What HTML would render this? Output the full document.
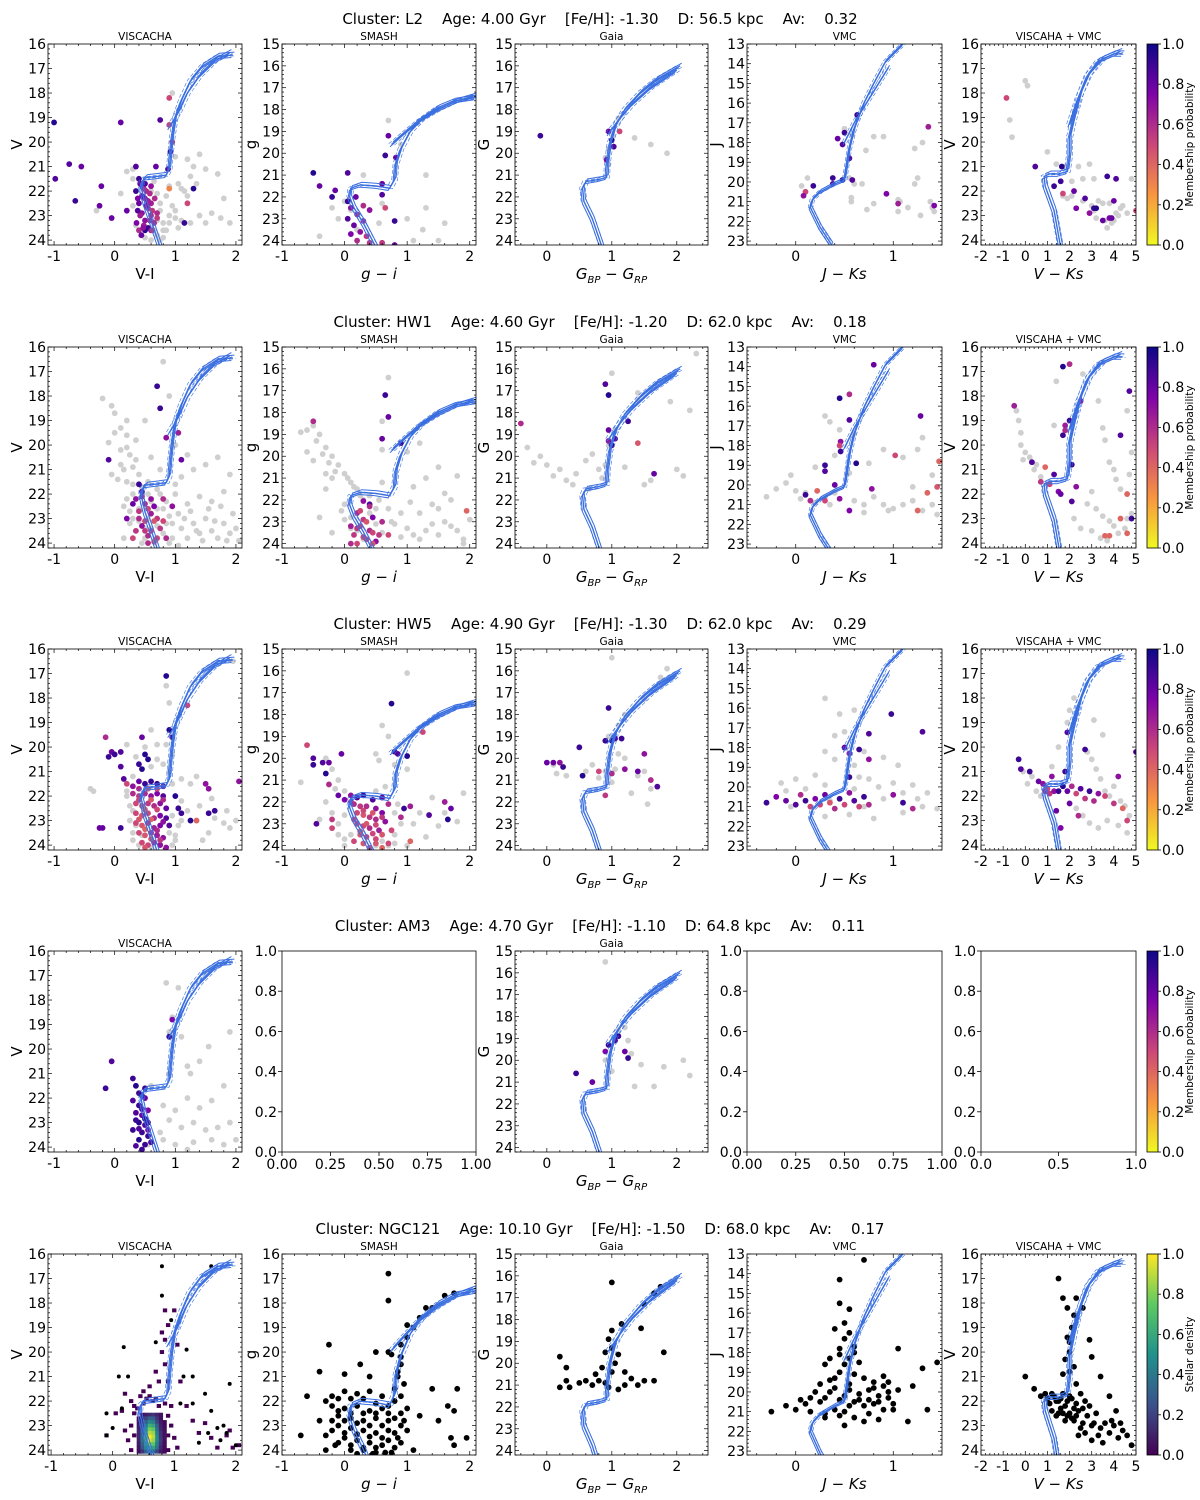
<!DOCTYPE html>
<html><head><meta charset="utf-8">
<style>
html,body{margin:0;padding:0;background:#fff;}
svg{display:block;font-family:"DejaVu Sans","Liberation Sans",sans-serif;}
</style></head>
<body>
<svg id="fig" width="1200" height="1500" viewBox="0 0 1200 1500" xmlns="http://www.w3.org/2000/svg"></svg>
<script>
// ---------- DATA ----------
const clusterNames = ["L2","HW1","HW5","AM3","NGC121"];
const clusterAges = ["4.00","4.60","4.90","4.70","10.10"];
const clusterFeH = ["-1.30","-1.20","-1.30","-1.10","-1.50"];
const clusterDist = ["56.5","62.0","62.0","64.8","68.0"];
const clusterAv = ["0.32","0.18","0.29","0.11","0.17"];
const rowPanels = [
 ["VI","GI","GAIA","JK","VK"],
 ["VI","GI","GAIA","JK","VK"],
 ["VI","GI","GAIA","JK","VK"],
 ["VI","E","GAIA","E","E5"],
 ["VIH","GI","GAIA","JK","VK"]
];
const turnoffShift = [0,0.3,0.35,0.3,0.9];
// isochrones [colour, magnitude]
const isoVI = [[0.75,24.3],[0.6,23.2],[0.5,22.5],[0.44,21.9],[0.45,21.6],[0.52,21.45],[0.7,21.4],[0.85,21.35],[0.9,21.1],[0.92,20.5],[0.95,19.8],[1.0,19.0],[1.1,18.3],[1.25,17.5],[1.45,16.9],[1.7,16.5],[1.95,16.45]];
const agbVI = [[0.9,19.4],[1.05,18.8],[1.2,18.0],[1.4,17.3],[1.65,16.7],[1.9,16.35]];
const isoGI = [[0.5,24.3],[0.3,23.2],[0.15,22.5],[0.08,22.0],[0.1,21.6],[0.25,21.45],[0.5,21.5],[0.72,21.6],[0.8,21.2],[0.82,20.5],[0.9,19.8],[1.05,19.0],[1.25,18.4],[1.5,17.9],[1.75,17.6],[2.1,17.45]];
const agbGI = [[0.75,19.6],[0.95,19.1],[1.2,18.5],[1.5,18.0],[1.8,17.6],[2.1,17.35]];
const isoGAIA = [[0.85,24.3],[0.7,23.0],[0.57,22.2],[0.55,21.6],[0.6,21.3],[0.8,21.2],[0.92,21.1],[0.93,20.5],[0.97,19.6],[1.05,18.8],[1.2,18.0],[1.45,17.2],[1.7,16.6],[2.05,16.0]];
const agbGAIA = [[0.95,19.1],[1.1,18.5],[1.3,17.8],[1.6,17.0],[2.0,16.2]];
const isoJK = [[0.37,23.2],[0.25,22.3],[0.15,21.3],[0.17,20.9],[0.25,20.5],[0.4,20.1],[0.5,19.9],[0.52,19.3],[0.55,18.3],[0.6,17.3],[0.7,16.0],[0.8,15.0],[0.92,13.9],[1.1,13.0]];
const agbJK = [[0.5,18.0],[0.6,17.0],[0.75,15.8],[0.95,14.2]];
const isoVK = [[1.6,24.3],[1.3,22.8],[0.9,21.8],[0.85,21.4],[1.1,21.3],[1.5,21.3],[1.9,21.2],[2.0,20.5],[2.0,19.8],[2.2,19.0],[2.5,18.0],[2.8,17.3],[3.3,16.7],[4.0,16.4],[4.4,16.4]];
const agbVK = [[2.0,19.3],[2.4,18.2],[2.9,17.2],[3.5,16.6],[4.3,16.3]];
// stars: "colour,mag,prob" (prob omitted = non-member grey, k = black)
const starsR1VI = "0.6,23.5 0.7,23.2 0.8,23.6 0.9,23.0 0.75,22.5 0.85,22.2 1.0,22.8 1.1,23.2 1.25,23.3 1.4,23.0 1.6,22.9 1.8,22.3 1.9,23.3 1.5,21.1 1.3,21.0 1.4,20.5 1.2,20.7 1.7,21.3 1.0,20.6 0.2,21.2 0.3,21.1 0.1,22.1 -0.3,22.8 0.95,18.0 0.7,23.8 0.5,23.9 0.6,22.0 0.3,22.6 0.9,21.8 1.1,21.9 1.2,22.2 1.35,21.7 0.8,23.9 0.65,23.6 1.05,23.5 1.5,23.3 1.75,23.1 0.75,22.8 0.8,23.3 0.85,23.6 0.7,22.1 0.65,21.6 0.3,21.5 0.35,23.4 0.9,23.3 1.0,23.1 0.95,22.6 0.75,24.0 0.6,24.0 1.15,22.0 1.25,21.4 1.05,21.7 -1,19.2,0.95 0.1,19.2,0.8 -0.75,20.9,0.85 -0.55,21.0,0.8 -0.98,21.5,0.85 -0.22,21.8,0.8 -0.65,22.4,0.9 -0.25,22.6,0.8 -0.05,23.1,0.8 0.2,22.8,0.8 0.35,21.0,0.85 0.4,21.5,0.9 0.45,21.8,0.7 0.35,22.0,0.9 0.5,22.3,0.7 0.4,22.5,0.8 0.55,22.7,0.6 0.45,22.9,0.7 0.6,23.0,0.6 0.5,23.2,0.7 0.55,23.5,0.9 0.65,23.3,0.6 0.4,23.6,0.6 0.6,22.5,0.65 0.45,22.2,0.75 0.7,22.9,0.6 0.5,23.6,0.95 0.9,21.9,0.3 1.2,22.5,0.5 1.15,23.3,0.9 1.3,21.9,0.95 0.75,19.1,0.85 0.9,19.3,0.5 0.92,20.4,0.9 0.95,20.0,0.5 0.9,18.2,0.5 0.88,21.1,0.85 0.68,21.0,0.8 0.52,22.0,0.6 0.6,23.6,0.7 0.38,22.8,0.85 0.48,23.4,0.65 0.42,21.7,0.8 0.48,21.9,0.6 0.38,22.3,0.75 0.58,22.1,0.6 0.62,22.8,0.55 0.42,23.0,0.65 0.52,22.6,0.7 0.58,23.2,0.6 0.47,23.5,0.7 0.62,23.6,0.55 0.36,23.3,0.75 0.55,22.4,0.65 0.5,21.7,0.85 0.6,21.8,0.7 0.66,22.3,0.6 0.7,23.1,0.55 0.44,23.8,0.8";
const starsR1GI = "0.0,22.2 0.1,22.6 -0.1,23.0 0.2,23.5 0.3,21.0 -0.2,22.5 0.6,22.3 0.55,23.2 1.3,21.0 1.3,22.5 1.0,23.0 1.25,23.5 1.6,23.2 1.5,24.0 -0.4,23.8 0.7,18.5 0.9,19.6 1.1,24.0 -0.5,20.9,0.95 0.05,20.9,0.85 -0.4,21.5,0.8 -0.15,21.7,0.8 -0.2,22.0,0.9 0.05,22.2,0.9 0.1,22.5,0.7 0.2,22.8,0.6 0.05,23.0,0.85 0.15,23.3,0.8 0.3,23.1,0.6 0.25,23.6,0.7 0.35,23.8,0.55 0.1,23.7,0.75 0.2,24.0,0.6 0.4,24.1,0.55 0.6,24.1,0.55 0.8,24.2,0.8 0.4,22.6,0.7 0.65,22.5,0.5 0.8,23.1,0.9 0.6,21.9,0.85 0.7,19.2,0.8 0.65,20.1,0.9 0.82,20.2,0.8 0.6,21.4,0.8 0.3,22.4,0.6 0.18,22.0,0.8";
const starsR1GAIA = "1.1,18.4 1.02,19.2 1.35,19.3 1.6,19.6 0.95,19.8 0.95,20.5 1.85,20.0 0.9,20.2 -0.1,19.2,0.9 0.95,19.0,0.8 1.12,19.0,0.5 1.0,19.4,0.95 1.03,19.7,0.85 0.92,20.3,0.75";
const starsR1JK = "0.5,17.3 0.8,17.7 0.9,17.7 0.72,18.4 1.3,18.0 1.22,18.3 0.06,20.2 0.12,19.8 0.55,19.8 0.6,20.1 0.68,20.1 1.25,19.8 1.22,20.1 0.57,20.8 0.57,21.0 0.8,21.1 0.73,21.4 1.05,20.9 1.07,21.0 1.15,21.3 1.05,21.5 1.28,21.7 1.4,21.3 1.42,21.5 1.38,21.0 0.58,17.6 0.63,16.6,0.9 0.43,17.8,0.8 0.48,18.1,0.85 0.5,17.5,0.9 0.55,18.8,0.85 0.38,19.8,0.9 0.38,20.1,0.85 0.18,20.2,0.9 0.48,19.9,0.95 0.58,19.9,0.85 0.1,20.5,0.5 0.08,20.7,0.7 0.93,20.6,0.75 1.05,21.1,0.65 1.36,17.2,0.65 1.42,21.2,0.75";
const starsR1VK = "0,17.5 0.1,17.7 -0.7,19.1 -0.6,19.8 1.0,20.4 1.4,20.9 2.4,21.0 2.6,21.5 2.9,20.9 3.1,21.5 1.7,22.2 1.9,22.3 2.1,22.2 2.6,22.4 3.0,22.6 3.1,22.8 3.3,22.4 3.5,22.5 3.8,22.5 4.1,22.9 4.3,22.7 3.2,23.1 3.6,23.2 3.9,23.3 4.0,23.2 4.2,23.0 3.7,23.5 4.4,22.6 4.6,22.9 4.8,21.5 2.1,21.6 1.8,21.0 -0.85,18.2,0.5 0.45,21.0,0.85 1.65,21.0,0.95 1.3,21.8,0.9 1.6,21.6,0.9 1.7,22.1,0.5 2.2,22.0,0.8 2.7,22.3,0.85 2.3,22.7,0.75 3.1,22.7,0.9 3.2,22.7,0.95 2.9,22.9,0.7 3.5,23.2,0.8 3.8,23.1,0.75 3.9,23.1,0.8 3.7,21.4,0.9 4.0,22.4,0.8 4.1,21.5,0.85 5.0,22.8,0.5";
const starsR2VI = "-0.2,18.1 0.0,18.7 0.1,19.3 0.2,19.6 0.2,20.1 0.35,20.6 0.1,20.8 0.3,20.9 0.4,21.2 0.2,21.5 0.45,21.7 0.55,21.5 0.7,21.8 0.3,22.0 0.6,22.3 0.4,22.6 0.8,22.6 0.9,22.9 0.55,23.0 0.7,23.3 0.8,23.6 0.5,23.8 0.35,23.5 0.95,23.8 1.1,23.4 1.2,23.8 1.3,23.2 1.4,23.6 1.5,23.0 1.6,23.5 1.7,23.8 1.8,23.2 1.9,23.6 2.0,23.4 1.2,22.4 1.4,22.1 1.6,22.3 1.8,21.9 1.1,21.3 1.3,21.0 1.5,20.8 1.7,20.5 1.9,21.2 1.0,20.0 1.2,20.4 0.9,18.0 0.8,16.6 0.5,19.0 0.6,20.5 0.75,21.0 1.0,22.0 0.65,23.9 0.25,23.2 0.15,22.5 -0.05,21.2 0.9,24.0 1.05,24.1 0.0,19.5 -0.1,19.9 0.1,20.2 0.25,20.4 0.05,21.4 0.15,21.0 0.3,21.6 0.2,22.2 0.25,22.7 0.3,23.0 0.45,24.0 0.6,23.4 0.75,22.0 0.85,22.3 0.95,23.2 1.05,22.8 1.15,23.0 1.25,22.7 1.35,23.5 1.45,23.9 1.55,22.6 1.65,23.1 1.75,22.5 1.85,23.9 1.95,22.8 2.05,23.9 1.0,21.6 0.55,22.0 0.7,22.6 0.85,23.2 0.5,23.4 0.4,23.1 0.15,23.8 0.2,19.0 -0.05,18.4 0.35,19.8 -0.1,20.6,0.85 0.7,17.6,0.9 0.75,18.5,0.9 0.85,19.7,0.7 1.05,19.5,0.65 1.1,20.6,0.8 0.4,21.6,0.9 0.45,21.9,0.85 0.35,22.2,0.7 0.5,22.4,0.6 0.4,22.7,0.55 0.6,22.8,0.65 0.5,23.1,0.5 0.7,23.0,0.55 0.45,23.3,0.7 0.6,23.5,0.5 0.55,23.7,0.6 0.75,23.4,0.55 0.8,22.2,0.6 0.65,22.5,0.75 0.3,23.8,0.5 0.85,23.8,0.6 0.2,23.0,0.75 0.95,22.5,0.7 0.45,22.1,0.6 0.55,22.6,0.5 0.65,23.1,0.45 0.5,23.5,0.55 0.7,23.8,0.5 0.4,23.0,0.6 0.6,22.2,0.7 0.35,23.5,0.55 0.8,23.1,0.5 0.3,22.4,0.8 0.65,23.95,0.45 0.55,24.0,0.6";
const starsR2GI = "-0.5,18.6 -0.4,19.0 -0.3,19.6 -0.2,20.0 -0.1,20.4 0.0,20.8 0.1,21.2 -0.2,21.0 0.2,21.5 0.3,22.0 0.0,22.2 0.1,22.8 0.4,22.6 0.5,23.1 0.2,23.4 0.6,23.5 0.8,23.1 0.9,23.7 1.0,23.3 1.2,23.8 1.3,23.4 1.5,23.6 1.6,23.0 1.8,23.4 1.9,23.8 2.0,22.9 1.2,22.6 1.4,22.2 1.6,21.7 1.1,21.4 1.3,21.0 1.5,20.5 1.8,20.9 1.0,19.8 1.2,19.4 0.6,19.7 0.6,18.4 0.7,16.4 -0.3,20.8 -0.6,19.8 -0.7,18.9 0.45,24.0 -0.2,23.5 -0.4,22.8 -0.6,18.8 -0.45,19.3 -0.35,19.9 -0.25,20.3 -0.15,20.7 0.05,21.0 0.15,21.4 0.25,21.8 -0.05,22.5 0.0,22.9 0.1,23.3 0.3,23.8 0.5,22.4 0.55,22.0 0.7,22.4 0.75,23.0 0.9,22.6 1.05,22.1 1.1,23.6 1.4,23.1 1.7,23.2 1.9,24.0 1.7,22.0 1.5,22.4 0.4,21.8 0.6,21.2 -0.3,21.5 -0.5,20.2 -0.5,18.4,0.6 0.65,17.2,0.9 0.7,18.2,0.8 0.6,19.2,0.8 0.9,19.4,0.9 0.4,22.2,0.85 0.2,22.6,0.6 0.3,22.9,0.55 0.25,23.2,0.5 0.4,23.4,0.6 0.15,23.6,0.55 0.35,23.8,0.5 0.5,23.9,0.7 0.2,24.0,0.5 0.45,22.8,0.75 0.6,23.0,0.6 0.1,23.2,0.65 0.7,23.6,0.5 1.95,22.5,0.4 0.25,22.5,0.5 0.35,23.0,0.45 0.45,23.5,0.5 0.2,23.3,0.55 0.3,23.7,0.5 0.45,24.0,0.45 0.55,23.6,0.55 0.1,24.0,0.6 0.4,22.3,0.6 0.3,22.05,0.7";
const starsR2GAIA = "-0.1,20.0 0.0,20.4 0.1,20.9 0.2,20.6 0.3,21.1 0.4,21.3 0.45,20.8 0.6,20.2 0.7,19.9 0.8,20.6 -0.3,19.6 -0.2,20.3 1.0,16.2 1.4,17.1 1.4,17.4 1.9,17.5 2.2,17.9 2.3,15.3 1.05,18.8 0.95,19.5 0.9,20.4 0.85,21.0 1.2,20.5 1.5,21.3 1.6,21.1 2.1,20.9 2.0,20.6 0.65,21.5 -0.4,18.5,0.6 0.9,16.7,0.85 0.95,17.2,0.95 0.95,18.8,0.8 0.95,19.3,0.7 1.0,19.5,0.9 1.05,19.2,0.85 1.25,18.4,0.9 1.4,19.4,0.45 1.65,20.8,0.8";
const starsR2JK = "-0.3,20.6 -0.2,20.2 -0.1,19.9 0.0,20.3 0.05,20.7 0.1,20.4 0.2,20.9 0.3,20.6 0.35,21.0 0.4,20.4 0.6,20.8 0.7,21.0 0.8,20.6 0.9,21.0 1.0,21.2 1.1,21.0 1.2,20.8 1.3,21.3 1.4,21.0 1.45,21.5 1.4,19.5 1.2,20.1 1.3,17.6 1.25,18.2 1.1,18.6 0.9,18.2 0.75,18.9 0.35,16.8 0.45,17.2 0.3,16.5 0.6,17.4 0.4,18.5 0.55,19.4 0.2,19.1 0.7,21.4 0.95,21.3 -0.05,19.5 0.8,13.9,0.8 0.45,15.6,0.95 0.55,15.4,0.6 0.55,16.7,0.85 0.46,17.8,0.7 0.45,18.0,0.5 0.46,18.3,0.9 0.3,19.0,0.9 0.3,19.3,0.85 0.62,18.9,0.95 0.4,20.0,0.8 0.1,20.5,0.9 0.15,20.8,0.6 0.22,20.3,0.4 0.3,20.8,0.5 0.45,20.7,0.7 0.78,20.2,0.7 0.55,21.3,0.75 1.02,18.5,0.5 1.28,16.5,0.8 1.25,21.3,0.4 1.35,20.4,0.4 1.47,18.8,0.4 1.45,20.1,0.45";
const starsR2VK = "-0.4,18.6 -0.3,19.0 -0.2,19.5 -0.2,20.0 0.0,20.3 -0.1,20.6 0.2,20.5 0.4,21.0 0.5,20.8 0.7,21.3 1.3,19.2 2.6,17.1 1.4,17.4 3.3,18.2 3.5,19.3 3.6,19.8 3.8,20.7 4.0,21.0 4.1,21.4 4.3,21.8 3.0,21.9 2.8,22.4 3.2,22.6 3.5,22.9 3.8,23.1 4.0,23.3 4.2,23.6 4.5,23.4 4.6,23.0 4.8,22.8 4.7,21.2 4.8,20.3 4.6,18.6 2.2,23.0 2.5,23.4 3.0,23.5 3.4,23.8 3.7,23.9 -0.5,18.4,0.65 1.7,16.8,0.95 2.0,16.7,0.6 4.7,17.8,0.85 4.3,19.6,0.85 0.3,20.7,0.85 0.9,20.9,0.4 0.7,21.5,0.55 1.1,21.6,0.5 1.3,21.2,0.85 1.5,21.9,0.75 1.6,22.0,0.8 2.1,22.3,0.85 2.3,21.7,0.7 2.1,20.8,0.9 2.0,19.0,0.9 1.8,19.2,0.65 1.7,19.6,0.9 1.8,19.4,0.6 4.6,22.0,0.4 4.3,23.0,0.4 4.6,23.6,0.4 3.6,23.7,0.4 3.8,23.7,0.4 4.8,23.0,0.9 2.5,18.2,0.7";
const starsR3VI = "-0.4,21.7 -0.35,21.8 0.2,19.9 0.35,20.4 0.5,20.0 0.6,19.3 0.7,19.9 0.85,19.9 0.9,18.2 0.85,17.5 1.95,16.5 0.3,21.2 0.2,22.0 0.3,22.6 0.35,23.2 0.3,23.8 0.9,23.5 1.0,23.8 1.1,23.0 1.2,22.6 1.1,21.3 1.35,21.2 1.4,22.4 1.6,22.1 1.65,22.9 1.8,23.1 1.85,22.6 1.9,23.3 2.0,23.0 1.45,23.8 1.55,23.5 0.6,24.1 0.75,24.0 0.45,23.6 1.25,21.5 0.2,21.8 0.25,22.4 0.25,23.0 0.3,23.5 0.4,24.0 0.95,22.8 1.05,23.2 1.0,23.6 0.95,24.0 1.1,22.2 0.95,21.5 0.9,21.0 0.8,20.7 0.7,20.5 0.6,20.8 0.95,20.3 -0.15,19.6,0.6 0.45,19.6,0.8 0.85,17.1,0.95 0.9,19.3,0.95 0.95,19.6,0.9 1.2,18.3,0.5 -0.05,20.2,0.8 0.0,20.3,0.9 0.1,20.2,0.85 -0.1,20.4,0.9 0.1,20.8,0.85 0.5,20.3,0.95 0.4,20.7,0.9 0.55,20.5,0.95 0.45,20.9,0.95 0.15,21.3,0.85 0.2,21.5,0.5 0.3,21.6,0.7 0.4,21.4,0.8 0.5,21.5,0.9 0.6,21.4,0.9 0.7,21.5,0.9 0.8,21.6,0.8 0.3,21.9,0.6 0.4,22.0,0.55 0.5,21.9,0.6 0.6,22.0,0.7 0.7,21.9,0.75 0.8,22.0,0.85 0.35,22.3,0.5 0.45,22.4,0.45 0.55,22.3,0.55 0.65,22.4,0.6 0.75,22.3,0.7 0.85,22.5,0.8 0.35,22.7,0.5 0.45,22.8,0.45 0.55,22.7,0.5 0.65,22.9,0.6 0.75,22.8,0.75 0.85,22.9,0.85 0.35,23.1,0.5 0.45,23.2,0.45 0.55,23.1,0.55 0.65,23.3,0.65 0.75,23.2,0.75 0.9,23.2,0.85 0.4,23.5,0.5 0.5,23.6,0.45 0.6,23.5,0.55 0.7,23.6,0.65 0.8,23.7,0.7 0.45,23.9,0.5 0.55,24.0,0.5 0.65,23.9,0.6 0.75,24.0,0.7 0.85,24.1,0.7 1.0,22.0,0.95 1.05,22.5,0.9 1.1,22.7,0.9 1.25,23.0,0.95 1.35,23.0,0.4 1.55,22.7,0.9 1.65,22.6,0.9 1.5,21.5,0.7 1.55,21.7,0.7 2.05,21.4,0.7 -0.25,23.3,0.8 -0.2,23.3,0.8 0.1,23.3,0.9 0.4,21.7,0.6 0.55,21.7,0.45 0.7,21.7,0.5 0.4,22.15,0.5 0.6,22.15,0.45 0.8,22.15,0.6 0.5,22.55,0.4 0.7,22.55,0.5 0.4,22.95,0.45 0.6,22.95,0.4 0.8,23.05,0.7 0.5,23.35,0.4 0.7,23.4,0.6 0.6,23.75,0.45 0.75,23.8,0.55 0.5,24.1,0.45";
const starsR3GI = "1.0,16.1 0.6,18.5 0.7,19.0 0.5,19.8 0.55,20.1 0.8,20.3 1.0,20.5 -0.7,21.1 -0.5,20.3 -0.3,20.0 -0.2,20.5 -0.1,21.0 0.0,21.5 -0.3,22.0 -0.2,22.5 -0.1,23.0 0.1,23.5 0.0,24.0 0.6,23.8 0.8,23.5 0.9,23.0 0.8,22.5 1.1,23.0 1.2,22.5 1.4,21.8 1.6,22.5 1.8,22.9 1.9,21.6 1.5,23.1 1.3,23.6 1.0,24.0 0.5,24.0 -0.4,22.8 0.0,22.6 -0.1,23.5 0.0,23.7 0.7,24.0 0.8,23.9 0.85,22.1 -0.15,21.4 0.5,21.5 0.65,21.3 -0.6,19.4,0.5 -0.5,20.0,0.85 -0.5,20.3,0.9 -0.35,20.2,0.85 -0.25,20.2,0.8 -0.3,20.7,0.95 -0.25,21.2,0.6 -0.05,19.8,0.8 0.75,17.5,0.95 0.8,19.7,0.9 0.85,19.8,0.85 1.0,19.9,0.95 1.25,18.8,0.5 -0.1,21.7,0.8 0.0,21.9,0.75 0.1,21.7,0.7 0.2,21.8,0.85 0.3,21.7,0.9 0.45,21.9,0.85 0.6,21.8,0.8 0.7,22.1,0.6 0.15,22.1,0.6 0.25,22.2,0.55 0.35,22.2,0.6 0.5,22.3,0.7 0.6,22.5,0.75 0.2,22.5,0.5 0.3,22.6,0.45 0.4,22.7,0.55 0.5,22.8,0.6 0.65,22.9,0.7 0.2,23.0,0.5 0.3,23.1,0.5 0.4,23.2,0.6 0.55,23.3,0.65 0.25,23.5,0.45 0.35,23.6,0.5 0.5,23.7,0.5 0.3,23.9,0.45 0.4,24.1,0.5 0.6,24.1,0.4 -0.2,22.8,0.55 -0.2,23.2,0.5 -0.45,23.0,0.85 0.95,22.3,0.9 1.05,22.2,0.65 1.35,22.6,0.85 1.6,22.0,0.65 1.7,22.3,0.8 1.65,22.8,0.95 1.05,23.8,0.4 0.9,22.7,0.6 0.1,22.0,0.6 0.3,22.4,0.5 0.45,22.5,0.45 0.15,22.8,0.5 0.35,23.0,0.45 0.5,23.05,0.5 0.6,22.7,0.55 0.25,23.35,0.45 0.45,23.45,0.5 0.6,23.5,0.45 0.15,23.8,0.5 0.5,23.9,0.45 0.7,23.9,0.5 0.75,23.3,0.5";
const starsR3GAIA = "-0.5,20.7 0.1,20.3 0.15,20.7 0.3,20.8 0.6,20.6 0.7,20.3 0.8,20.9 0.9,20.6 1.0,21.1 1.05,20.5 1.1,19.8 1.2,20.0 1.4,20.8 1.5,20.6 1.6,21.4 1.3,21.6 1.55,22.1 1.1,18.5 1.2,18.0 1.5,17.3 1.75,16.3 1.85,15.9 1.0,15.4 0.95,19.0 -0.55,19.6,0.55 0.0,20.2,0.8 0.1,20.2,0.8 0.2,20.2,0.7 0.25,20.4,0.9 0.5,19.5,0.9 0.55,20.8,0.95 0.95,17.7,0.9 0.9,19.2,0.9 1.0,19.2,0.95 1.05,19.1,0.85 1.15,19.1,0.9 0.8,20.6,0.5 1.0,20.7,0.6 1.2,20.5,0.7 1.4,20.6,0.8 1.6,21.0,0.6 1.7,21.3,0.85 0.9,21.7,0.55 1.5,19.8,0.7";
const starsR3JK = "0.3,15.5 0.45,16.3 0.6,16.1 0.4,17.4 0.5,17.2 0.3,18.2 0.4,18.6 0.6,18.9 0.65,19.5 -0.15,19.8 -0.1,20.2 0.0,19.6 0.1,20.1 0.2,19.4 0.3,19.9 0.6,20.1 0.75,19.6 0.85,20.0 0.9,20.6 1.0,19.8 1.1,20.3 1.2,19.9 1.25,20.6 1.3,21.0 1.35,20.3 1.45,21.1 1.1,21.3 0.8,21.6 0.7,21.0 0.55,21.4 0.3,21.5 0.9,18.5 1.05,18.9 0.7,18.2 0.35,20.7 -0.05,21.0 0.98,16.3,0.9 1.3,17.2,0.85 0.75,17.3,0.85 0.5,18.0,0.8 0.55,18.3,0.7 0.65,18.1,0.9 0.75,18.6,0.7 0.55,19.5,0.9 -0.3,20.8,0.9 -0.2,20.5,0.75 -0.1,20.7,0.8 0.0,20.9,0.85 0.05,20.4,0.6 0.1,20.7,0.9 0.2,20.6,0.75 0.25,20.9,0.5 0.3,20.4,0.8 0.35,20.8,0.45 0.45,20.6,0.9 0.5,20.9,0.5 0.55,20.3,0.7 0.6,20.7,0.85 0.65,21.0,0.5 0.7,20.5,0.9 0.75,20.9,0.6 0.4,21.1,0.6 1.0,20.4,0.7 1.1,20.8,0.9 1.2,21.1,0.6 0.15,21.0,0.5";
const starsR3VK = "-0.1,21.0 0.1,21.5 0.3,21.2 0.5,21.8 0.7,22.0 0.9,21.6 1.2,20.8 1.5,20.0 2.8,20.2 3.0,20.5 3.2,20.9 3.4,21.3 3.6,21.8 3.8,22.0 4.0,21.6 4.3,22.2 4.5,22.4 4.7,22.8 2.3,22.5 2.6,22.8 2.9,23.1 3.3,23.3 3.7,23.0 4.2,23.2 4.6,23.5 2.2,18.0 2.0,18.5 1.9,19.0 3.5,19.5 3.1,18.9 -0.3,20.5,0.9 -0.2,20.9,0.85 0.2,21.0,0.9 0.6,21.4,0.8 0.8,21.5,0.7 0.9,21.8,0.6 1.0,21.7,0.5 1.1,21.9,0.55 1.3,21.8,0.7 1.5,21.8,0.9 1.7,21.6,0.95 1.9,21.8,0.8 2.1,21.6,0.6 2.3,21.9,0.5 2.5,21.7,0.85 2.7,22.1,0.55 2.9,21.8,0.9 3.1,22.2,0.6 3.3,21.9,0.7 3.6,22.0,0.5 4.0,22.3,0.55 4.4,22.5,0.4 4.6,23.0,0.5 1.9,19.4,0.85 1.8,21.0,0.9 1.4,22.6,0.8 1.6,23.3,0.75 2.0,22.3,0.8 2.4,22.8,0.6 2.7,20.1,0.9 1.2,21.2,0.7 5.0,20.2,0.85 4.2,21.2,0.7";
const starsR4VI = "0.9,19.3 0.95,18.7 1.05,17.5 1.1,19.5 1.2,20.7 1.25,21.0 1.4,20.5 1.55,19.9 1.9,19.3 1.8,21.5 1.6,22.1 1.4,22.4 1.2,22.0 1.0,22.5 0.9,22.9 1.1,23.2 1.3,23.0 1.5,23.3 1.7,23.2 1.9,23.0 2.0,23.7 1.8,23.9 1.6,23.7 1.3,23.8 1.0,23.9 0.8,23.7 0.75,23.4 0.8,22.3 0.6,21.5 0.55,23.9 1.2,24.1 0.9,21.0 0.85,17.3 -0.05,20.5,0.85 -0.15,21.6,0.9 0.9,19.5,0.9 0.95,18.8,0.75 0.3,21.2,0.9 0.35,21.5,0.95 0.4,21.8,0.9 0.3,22.1,0.85 0.4,22.3,0.9 0.5,22.0,0.8 0.35,22.6,0.85 0.45,22.7,0.8 0.4,23.0,0.95 0.5,23.1,0.85 0.45,23.4,0.9 0.55,23.3,0.75 0.4,23.7,0.95 0.5,23.9,0.9 0.55,22.5,0.75 0.3,23.3,0.9 0.6,23.8,0.85 0.45,22.45,0.85 0.35,22.9,0.9 0.5,22.85,0.95 0.4,23.25,0.85 0.55,23.55,0.9 0.35,23.95,0.85 0.45,24.1,0.9 0.5,21.6,0.9 0.45,21.9,0.95 0.55,23.0,0.85";
const starsR4GAIA = "0.9,15.5 1.1,18.6 1.25,19.1 1.3,19.7 1.45,20.2 1.8,20.3 2.1,20.0 2.2,20.7 1.65,21.2 1.35,21.2 1.2,18.5 0.9,20.0 1.0,20.5 0.45,20.6,0.9 0.95,19.3,0.9 1.05,19.1,0.85 1.1,18.9,0.9 1.2,19.6,0.8 1.25,19.9,0.9 0.9,19.6,0.75 0.7,21.0,0.8";
const starsR5VI = "0.8,16.5,k 0.8,17.7,k 1.6,16.5,k 0.95,18.7,k 0.7,19.6,k 0.18,19.8,k 1.2,19.9,k 0.1,21.0,k 0.25,21.0,k 1.15,21.0,k 1.3,21.0,k 1.9,21.3,k -0.1,22.5,k 0.15,22.3,k 1.1,22.1,k 1.3,22.1,k 1.6,22.4,k 1.5,21.7,k 1.7,23.1,k 1.8,23.0,k 1.85,23.3,k 1.55,23.3,k 1.4,23.7,k 1.75,23.6,k 2.0,23.8,k -0.1,23.4,k 0.0,23.1,k";
const starsR5GI = "0.7,16.8,k 0.7,17.9,k -0.25,19.7,k -0.4,20.8,k 0.25,20.5,k 0.0,20.9,k 0.4,21.0,k -0.6,21.8,k -0.4,22.8,k -0.7,23.4,k -0.3,23.4,k 1.4,21.5,k 1.8,21.5,k 1.65,22.2,k 1.75,22.4,k 1.5,22.8,k 1.7,23.5,k 1.95,23.5,k 1.75,23.8,k 1.1,24.0,k 1.0,23.2,k 1.2,22.6,k 1.6,17.7,k 1.75,17.6,k 1.3,18.2,k 1.0,18.9,k 0.9,19.7,k 0.7,20.0,k 0.5,20.0,k -0.2,21.8,k 0.0,21.6,k 0.2,21.7,k 0.4,21.6,k 0.6,21.8,k 0.8,21.5,k -0.2,22.2,k 0.0,22.3,k 0.2,22.2,k 0.4,22.4,k 0.6,22.3,k 0.8,22.0,k 0.9,22.5,k -0.1,22.6,k 0.1,22.7,k 0.3,22.8,k 0.5,22.7,k 0.7,22.8,k 0.9,23.0,k -0.1,23.0,k 0.1,23.1,k 0.3,23.2,k 0.5,23.3,k 0.7,23.2,k 0.85,23.5,k 0.0,23.5,k 0.2,23.6,k 0.4,23.7,k 0.6,23.8,k 0.8,23.9,k 0.1,24.0,k 0.3,24.0,k 0.5,24.1,k 0.9,20.5,k 0.85,21.0,k 0.95,21.3,k -0.15,23.8,k 0.65,24.1,k -0.3,22.0,k -0.1,22.4,k 0.1,22.5,k 0.3,22.5,k 0.5,22.5,k 0.7,22.5,k -0.2,22.8,k 0.0,22.8,k 0.2,22.9,k 0.4,23.0,k 0.6,23.0,k 0.8,22.7,k -0.2,23.2,k 0.0,23.3,k 0.2,23.35,k 0.4,23.45,k 0.6,23.5,k 0.8,23.3,k -0.1,23.7,k 0.1,23.8,k 0.3,23.9,k 0.5,23.9,k 0.7,23.6,k 0.9,23.7,k -0.3,24.0,k 0.2,24.15,k 0.45,24.15,k 0.75,24.1,k 0.9,21.8,k 1.0,22.3,k 0.95,22.8,k 0.3,21.9,k 0.5,22.1,k 0.7,22.2,k 0.1,21.9,k -0.1,21.9,k 0.85,20.8,k 0.9,20.2,k 0.75,20.1,k 1.0,19.4,k 1.1,19.0,k 1.2,18.6,k 1.4,18.2,k";
const starsR5GAIA = "0.2,19.7,k 0.3,20.2,k 0.3,20.8,k 0.2,21.1,k 0.35,21.1,k 0.5,20.9,k 0.6,20.8,k 0.7,21.0,k 0.8,20.8,k 0.9,20.9,k 0.95,21.1,k 0.75,20.5,k 0.9,19.5,k 1.0,19.3,k 1.1,19.6,k 1.05,20.0,k 1.0,20.4,k 1.2,20.4,k 1.3,20.7,k 1.4,21.0,k 1.5,20.8,k 1.65,20.8,k 1.1,21.2,k 1.2,21.0,k 0.95,18.9,k 1.0,18.5,k 1.15,18.2,k 1.5,17.3,k 1.65,16.8,k 1.75,16.5,k 1.0,16.3,k 1.45,18.4,k 1.8,19.5,k 0.85,20.2,k";
const starsR5JK = "0.7,13.3,k 0.45,14.3,k 0.55,15.8,k 0.4,16.8,k 0.5,17.3,k 0.6,17.7,k 0.45,18.1,k 0.55,18.3,k 0.3,18.6,k 0.65,18.5,k 0.45,19.0,k 0.6,19.1,k 0.7,19.3,k 0.8,19.5,k 0.9,19.2,k 0.35,19.4,k 0.4,19.8,k 0.55,19.9,k 0.65,20.1,k 0.75,19.9,k 0.85,20.2,k 0.95,20.0,k 1.05,19.9,k 0.2,20.0,k 0.3,20.3,k 0.45,20.4,k 0.6,20.5,k 0.7,20.7,k 0.8,20.6,k 0.9,20.9,k 1.0,20.6,k 0.1,20.6,k 0.0,20.9,k -0.1,20.7,k -0.25,21.0,k 0.15,21.0,k 0.3,21.1,k 0.45,21.2,k 0.6,21.3,k 0.75,21.1,k 0.85,21.4,k 0.5,21.7,k 1.2,19.7,k 1.35,20.9,k 1.3,18.8,k 1.45,18.5,k 1.15,21.5,k 1.05,17.8,k 0.95,19.5,k 0.25,19.6,k 0.45,17.8,k 0.5,18.6,k 0.4,19.3,k 0.55,19.6,k 0.5,20.2,k 0.35,20.0,k 0.25,20.5,k 0.15,20.3,k 0.05,20.4,k 0.4,20.9,k 0.55,20.7,k 0.65,20.4,k 0.75,20.4,k 0.85,20.5,k 0.95,20.3,k 1.0,20.9,k 0.3,21.3,k 0.5,21.0,k 0.7,21.5,k 0.8,19.8,k 0.9,19.7,k 0.5,16.5,k 0.55,17.0,k 0.6,18.0,k 0.35,18.3,k 0.45,15.5,k";
const starsR5VK = "1.5,17.0,k 1.7,17.8,k 1.9,19.4,k 2.6,18.2,k 2.9,19.5,k 3.0,20.2,k 0.0,21.0,k 0.4,21.5,k 0.7,21.8,k 0.9,21.7,k 1.0,21.9,k 1.1,22.1,k 1.3,21.8,k 1.5,22.0,k 1.7,21.7,k 1.9,22.0,k 2.1,21.9,k 2.3,22.1,k 2.5,21.7,k 2.7,22.0,k 1.2,22.4,k 1.4,22.6,k 1.6,22.3,k 1.8,22.8,k 2.0,22.5,k 2.2,22.8,k 2.4,22.4,k 2.6,22.9,k 2.8,22.6,k 3.0,23.0,k 3.2,22.5,k 3.4,23.1,k 3.6,22.9,k 3.8,23.3,k 4.0,23.0,k 4.2,23.5,k 4.4,23.2,k 4.6,23.4,k 4.8,23.8,k 3.4,21.0,k 3.8,21.8,k 4.1,22.4,k 1.8,20.3,k 2.0,20.0,k 2.2,20.6,k 1.7,20.9,k 2.4,23.4,k 3.0,23.6,k 3.5,23.7,k 1.2,21.7,k 1.4,22.0,k 1.6,21.9,k 1.8,22.2,k 2.0,21.8,k 2.2,22.3,k 1.5,22.5,k 1.7,22.5,k 1.9,22.6,k 2.1,22.7,k 2.3,22.6,k 2.6,22.3,k 2.9,22.2,k 3.1,22.9,k 2.5,23.1,k 2.7,23.3,k 3.3,23.4,k 3.9,22.8,k 4.3,22.9,k 2.0,19.6,k 2.1,19.0,k 2.2,18.5,k 2.3,17.8,k 1.9,18.2,k 2.0,20.8,k 2.3,21.3,k";
// VISCACHA 2D histogram for NGC121 (rows = mag, cols = colour)
const histMags = [22.55,22.7,22.85,23.0,23.15,23.3,23.45,23.6,23.75,23.9,24.05];
const histCols = [0.42,0.48,0.54,0.60,0.66,0.72,0.78,0.84];
const histDensity = [
 [0.0,0.02,0.08,0.12,0.15,0.10,0.05,0.0],
 [0.02,0.08,0.20,0.30,0.28,0.15,0.05,0.0],
 [0.05,0.15,0.30,0.45,0.40,0.20,0.08,0.02],
 [0.08,0.20,0.40,0.60,0.55,0.30,0.10,0.03],
 [0.10,0.25,0.50,0.75,0.70,0.35,0.12,0.04],
 [0.12,0.30,0.55,0.85,0.80,0.40,0.15,0.05],
 [0.12,0.35,0.60,0.95,0.85,0.45,0.15,0.05],
 [0.10,0.35,0.60,0.90,0.80,0.45,0.18,0.05],
 [0.08,0.30,0.55,0.75,0.70,0.40,0.15,0.04],
 [0.06,0.25,0.45,0.60,0.55,0.35,0.12,0.03],
 [0.04,0.15,0.30,0.40,0.35,0.20,0.08,0.02]
];
const histSparse = "0.4,22.3 0.5,22.1 0.55,21.9 0.6,21.8 0.65,22.0 0.7,21.9 0.75,22.2 0.45,21.8 0.5,21.6 0.35,22.2 0.3,22.0 0.2,21.7 0.15,22.4 0.25,23.6 0.3,24.0 0.2,23.2 0.9,22.6 0.95,23.0 1.0,23.5 1.05,23.9 0.9,21.2 0.85,20.5 0.8,20.0 0.85,19.5 0.9,18.9 1.0,18.3 1.1,21.2 1.2,22.2 1.3,22.8 1.5,22.9 1.6,23.5 1.7,23.9 1.9,23.2 1.85,23.4 1.95,23.9 2.05,23.8 -0.1,23.4 0.05,22.5 0.6,21.4 0.7,20.8 0.75,21.2 1.4,23.3 1.05,19.7 0.8,19.2 0.85,18.3 0.35,22.5 0.3,23.0 0.35,23.4 0.9,23.4 0.9,24.0 0.95,22.2 0.85,22.1";

// ---------- LAYOUT ----------
const rowTop = [44,347,649,951,1254];
const plotH = 201;
const colX = [48,282,515,747,981];
const colW = [194,194,193,195,155];
const NS = "http://www.w3.org/2000/svg";
const svg = document.getElementById('fig');
function el(tag, attrs, parent){
  const e = document.createElementNS(NS, tag);
  for (const k in attrs) e.setAttribute(k, attrs[k]);
  (parent||svg).appendChild(e);
  return e;
}
const axisDefs = {
  VI:{x:[-1.1,2.1],y:[16,24.2],xt:[-1,0,1,2],yt:[16,17,18,19,20,21,22,23,24],xl:"V-I",yl:"V",t:"VISCACHA"},
  VIH:{x:[-1.05,2.1],y:[16,24.2],xt:[-1,0,1,2],yt:[16,17,18,19,20,21,22,23,24],xl:"V-I",yl:"V",t:"VISCACHA"},
  GI:{x:[-1,2.1],y:[15,24.2],xt:[-1,0,1,2],yt:[15,16,17,18,19,20,21,22,23,24],xl:"gi",yl:"g",t:"SMASH"},
  GAIA:{x:[-0.49,2.48],y:[15,24.2],xt:[0,1,2],yt:[15,16,17,18,19,20,21,22,23,24],xl:"gaia",yl:"G",t:"Gaia"},
  JK:{x:[-0.5,1.5],y:[13,23.2],xt:[0,1],yt:[13,14,15,16,17,18,19,20,21,22,23],xl:"jk",yl:"J",t:"VMC"},
  VK:{x:[-2,5],y:[16,24.2],xt:[-2,-1,0,1,2,3,4,5],yt:[16,17,18,19,20,21,22,23,24],xl:"vk",yl:"V",t:"VISCAHA + VMC"}
};
const isoMap = {VI:[isoVI,agbVI],VIH:[isoVI,agbVI],GI:[isoGI,agbGI],GAIA:[isoGAIA,agbGAIA],JK:[isoJK,agbJK],VK:[isoVK,agbVK]};
const starMap = [
  {VI:starsR1VI,GI:starsR1GI,GAIA:starsR1GAIA,JK:starsR1JK,VK:starsR1VK},
  {VI:starsR2VI,GI:starsR2GI,GAIA:starsR2GAIA,JK:starsR2JK,VK:starsR2VK},
  {VI:starsR3VI,GI:starsR3GI,GAIA:starsR3GAIA,JK:starsR3JK,VK:starsR3VK},
  {VI:starsR4VI,GAIA:starsR4GAIA},
  {VIH:starsR5VI,GI:starsR5GI,GAIA:starsR5GAIA,JK:starsR5JK,VK:starsR5VK}
];
function lerpColor(stops, t){
  t = Math.max(0, Math.min(1, t));
  const n = stops.length-1, i = Math.min(n-1, Math.floor(t*n)), f = t*n - i;
  const a = stops[i], b = stops[i+1];
  const c = [0,1,2].map(k => Math.round(a[k]+(b[k]-a[k])*f));
  return `rgb(${c[0]},${c[1]},${c[2]})`;
}
const plasma = [[240,249,33],[248,149,64],[204,71,120],[126,3,168],[13,8,135]];
const viridis = [[68,1,84],[59,82,139],[33,145,140],[94,201,98],[253,231,37]];
function fmt(v){ return v<0 ? "-"+Math.abs(v) : String(v); }

function xLabel(g, kind, cx, y){
  const t = el('text',{x:cx,y:y,'text-anchor':'middle','font-size':15,fill:'#000'},g);
  
  
  if (kind==="V-I"){ t.textContent="V-I"; return; }
  t.setAttribute('font-style','italic');
  const parts = kind==="gi"?[["g − i",0]]:kind==="jk"?[["J − Ks",0]]:kind==="vk"?[["V − Ks",0]]:[["G",0],["BP",1],[" − G",0],["RP",1]];
  parts.forEach(p=>{
    const s = el('tspan',{},t);
    s.textContent = p[0];
    if (p[1]){ s.setAttribute('font-size','10'); s.setAttribute('dy','4'); }
    else if (t.childNodes.length>1){ s.setAttribute('dy','-4'); }
  });
}

function drawPanel(r, c, type){
  const x0 = colX[c], y0 = rowTop[r], w = colW[c], h = plotH;
  const g = el('g',{});
  
  
  if (type==="E"||type==="E5"){
    const sx = v => x0 + v*w, sy = v => y0 + h - v*h;
    const frame = el('rect',{x:x0,y:y0,width:w,height:h,fill:'none',stroke:'#000','stroke-width':0.8},g);
    
    
    [0,0.2,0.4,0.6,0.8,1.0].forEach(v=>{
      el('line',{x1:x0-4,x2:x0,y1:sy(v),y2:sy(v),stroke:'#000','stroke-width':0.8},g);
      const t = el('text',{x:x0-5,y:sy(v)+5,'text-anchor':'end','font-size':14},g);
      t.textContent = v.toFixed(1);
      
      
    });
    const xt = type==="E5"?[0,0.5,1.0]:[0,0.25,0.5,0.75,1.0];
    xt.forEach(v=>{
      el('line',{x1:sx(v),x2:sx(v),y1:y0+h,y2:y0+h+4,stroke:'#000','stroke-width':0.8},g);
      const t = el('text',{x:sx(v),y:y0+h+17,'text-anchor':'middle','font-size':14},g);
      t.textContent = type==="E5"?v.toFixed(1):v.toFixed(2);
      
      
    });
    return;
  }
  const ax = axisDefs[type];
  const sx = v => x0 + (v-ax.x[0])/(ax.x[1]-ax.x[0])*w;
  const sy = v => y0 + (v-ax.y[0])/(ax.y[1]-ax.y[0])*h;
  const cid = 'clip'+r+'_'+c;
  const cp = el('clipPath',{id:cid},g); el('rect',{x:x0,y:y0,width:w,height:h},cp);
  const inner = el('g',{'clip-path':`url(#${cid})`},g);
  const st = el('text',{x:x0+w/2,y:y0-4,'text-anchor':'middle','font-size':10.5},g);
  st.textContent = ax.t;
  
  
  if (type==="VIH"){
    const ccell = (histCols[1]-histCols[0]), mcell = (histMags[1]-histMags[0]);
    histSparse.split(' ').forEach(tok=>{
      const [cc,mm] = tok.split(',').map(Number);
      const b = el('rect',{x:sx(cc-0.035),y:sy(mm-0.08),width:sx(0.07)-sx(0),height:sy(0.16)-sy(0),fill:'#440154'},inner);
      
      
    });
    histMags.forEach((m,i)=>histCols.forEach((cc,j)=>{
      const d = histDensity[i][j];
      if (d<=0) return;
      const b = el('rect',{x:sx(cc-ccell/2),y:sy(m-mcell/2),width:sx(ccell)-sx(0)+0.5,height:sy(mcell)-sy(0)+0.5,fill:lerpColor(viridis,d*1.05)},inner);
      
      
    }));
  }
  const src = starMap[r][type];
  if (src){
    const pts = src.split(' ').map(t=>t.split(','));
    const order = pts.filter(p=>p.length<3).concat(pts.filter(p=>p.length>=3));
    order.forEach(p=>{
      const cx = sx(+p[0]), cy = sy(+p[1]);
      let fill = '#cfcfcf', rad = 2.9;
      if (p.length>=3){ fill = p[2]==='k' ? '#000' : lerpColor(plasma, +p[2]); }
      if (type==="VIH"){ rad = 2.0; }
      const d = el('circle',{cx:cx,cy:cy,r:rad,fill:fill},inner);
      
      
    });
  }
  const sh = turnoffShift[r];
  const [iso, agb] = isoMap[type];
  const cscale = type==="VK" ? 3 : (type==="JK" ? 0.5 : 1);
  const offs = [[0,0,1.4,''],[0.025,-0.12,1.0,''],[-0.025,0.1,1.0,''],[0.045,0.03,0.6,'4,2'],[-0.045,-0.03,0.6,'4,2']];
  [iso, agb].forEach((curve,ci)=>{
    offs.forEach(o=>{
      const d = curve.map((pt,i)=>{
        const m = pt[1] + sh*Math.max(0,(pt[1]-(ax.y[0]+1))/(ax.y[1]-ax.y[0]-1)) + o[1];
        return (i?'L':'M') + sx(pt[0]+o[0]*cscale).toFixed(1) + ',' + sy(m).toFixed(1);
      }).join(' ');
      const pl = el('path',{d:d,fill:'none',stroke:'#3a6fe0','stroke-width':o[2],'stroke-dasharray':o[3]},inner);
      
      
    });
  });
  const frame = el('rect',{x:x0,y:y0,width:w,height:h,fill:'none',stroke:'#000','stroke-width':0.8},g);
  
  
  const xstep = ax.xt.length>1 ? ax.xt[1]-ax.xt[0] : 1;
  for (let v=Math.ceil(ax.x[0]/(xstep/5))*(xstep/5); v<=ax.x[1]+1e-9; v+=xstep/5){
    const major = ax.xt.some(t=>Math.abs(t-v)<1e-6), L = major?4:2;
    el('line',{x1:sx(v),x2:sx(v),y1:y0+h,y2:y0+h-L,stroke:'#000','stroke-width':0.7},g);
    el('line',{x1:sx(v),x2:sx(v),y1:y0,y2:y0+L,stroke:'#000','stroke-width':0.7},g);
  }
  for (let v=ax.y[0]; v<=ax.y[1]+1e-9; v+=0.2){
    const major = Math.abs(v-Math.round(v))<1e-6, L = major?4:2;
    el('line',{x1:x0,x2:x0+L,y1:sy(v),y2:sy(v),stroke:'#000','stroke-width':0.7},g);
    el('line',{x1:x0+w,x2:x0+w-L,y1:sy(v),y2:sy(v),stroke:'#000','stroke-width':0.7},g);
  }
  ax.xt.forEach(v=>{
    const t = el('text',{x:sx(v),y:y0+h+16,'text-anchor':'middle','font-size':14},g);
    t.textContent = fmt(v);
    
    
  });
  const yt = (r===4 && type==="GI") ? [16,17,18,19,20,21,22,23,24] : ax.yt;
  yt.forEach(v=>{
    const t = el('text',{x:x0-2,y:sy(v)+5,'text-anchor':'end','font-size':14},g);
    t.textContent = fmt(v);
    
    
  });
  xLabel(g, ax.xl, x0+w/2, y0+h+34);
  const yl = el('text',{x:x0-26,y:y0+h/2,'text-anchor':'middle','font-size':15,transform:`rotate(-90 ${x0-26} ${y0+h/2})`},g);
  yl.textContent = ax.yl;
  
  
}

rowPanels.forEach((row,r)=>{
  const title = el('text',{x:600,y:rowTop[r]-20,'text-anchor':'middle','font-size':15});
  title.setAttribute('xml:space','preserve');
  title.textContent = `Cluster: ${clusterNames[r]}    Age: ${clusterAges[r]} Gyr    [Fe/H]: ${clusterFeH[r]}    D: ${clusterDist[r]} kpc    Av:    ${clusterAv[r]}`;
  title.style.whiteSpace = 'pre';
  
  
  row.forEach((type,c)=>{
    if (r===4 && type==="GI"){
      const saved = axisDefs.GI.y; axisDefs.GI.y = [16,24.2];
      drawPanel(r,c,type); axisDefs.GI.y = saved;
    } else drawPanel(r,c,type);
  });
  const cbx = 1147, cbw = 11, y0 = rowTop[r];
  const stops = r===4 ? viridis : plasma;
  const gid = 'cbg'+r;
  const grad = el('linearGradient',{id:gid,x1:0,y1:1,x2:0,y2:0});
  stops.forEach((s,i)=>el('stop',{offset:i/(stops.length-1),'stop-color':`rgb(${s[0]},${s[1]},${s[2]})`},grad));
  const cb = el('rect',{x:cbx,y:y0,width:cbw,height:plotH,fill:`url(#${gid})`,stroke:'#000','stroke-width':0.8});
  
  
  [0,0.2,0.4,0.6,0.8,1.0].forEach(v=>{
    const yy = y0+plotH - v*plotH;
    el('line',{x1:cbx+cbw,x2:cbx+cbw+3,y1:yy,y2:yy,stroke:'#000','stroke-width':0.8});
    const t = el('text',{x:cbx+cbw+4,y:yy+5,'font-size':14});
    t.textContent = v.toFixed(1);
    
    
  });
  const lab = el('text',{x:1193,y:y0+plotH/2,'text-anchor':'middle','font-size':10.5,transform:`rotate(-90 1193 ${y0+plotH/2})`});
  lab.textContent = r===4 ? 'Stellar density' : 'Membership probability';
  
  
});
</script>
</body></html>
